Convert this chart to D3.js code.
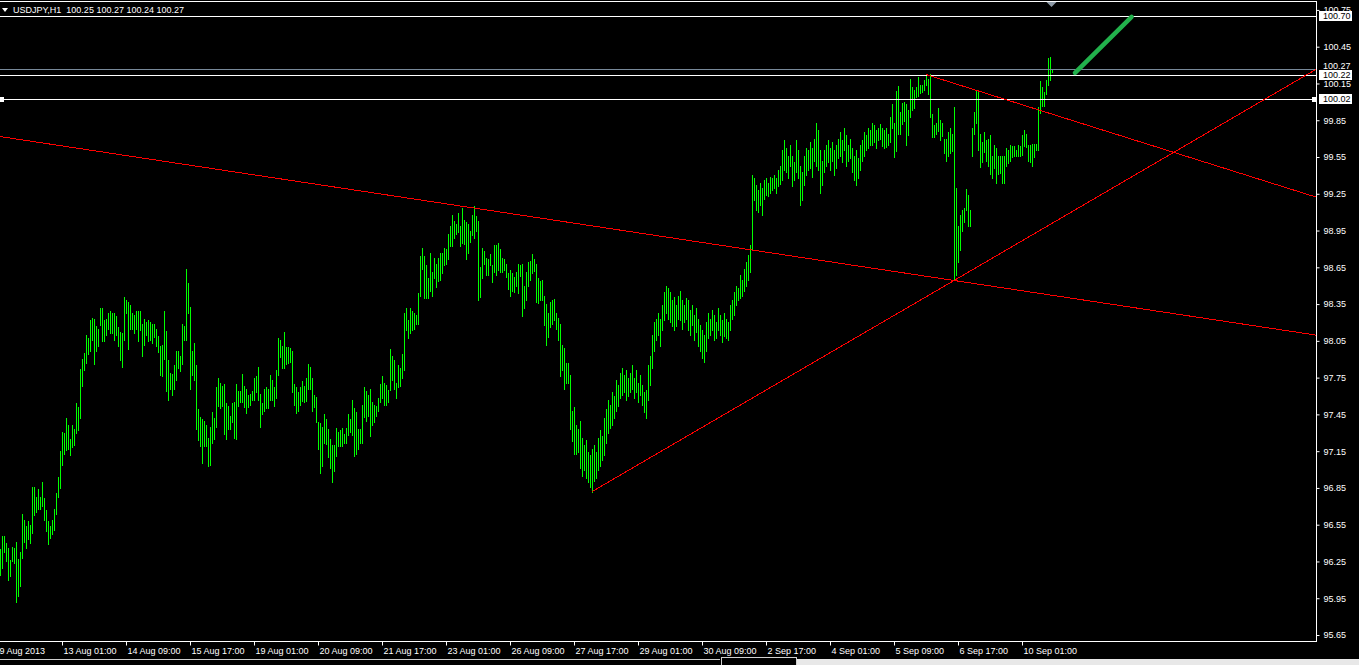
<!DOCTYPE html>
<html><head><meta charset="utf-8">
<script src="https://cdn.jsdelivr.net/npm/d3@7"></script>
<style>html,body{margin:0;padding:0;background:#000;overflow:hidden}text{white-space:pre}</style>
</head><body><svg id="c" width="1359" height="665"></svg>
<script>
// ---------------- DATA ----------------
const symbolTitle = "USDJPY,H1";
const lastOHLC = [100.25, 100.27, 100.24, 100.27];

const highs = [
96.35,96.46,96.46,96.40,96.36,96.26,96.37,96.36,96.41,96.27,
96.33,96.64,96.59,96.54,96.58,96.55,96.86,96.86,96.78,96.84,
96.78,96.90,96.77,96.67,96.58,96.54,96.59,96.68,96.81,96.94,
97.15,97.31,97.30,97.42,97.36,97.25,97.36,97.33,97.54,97.51,
97.82,97.90,97.95,98.10,98.07,98.22,98.24,98.23,98.17,98.15,
98.32,98.32,98.22,98.23,98.28,98.29,98.28,98.28,98.25,98.16,
98.12,98.11,98.41,98.38,98.37,98.34,98.28,98.26,98.29,98.29,
98.29,98.19,98.23,98.20,98.22,98.20,98.19,98.19,98.15,98.09,
98.01,98.02,98.29,98.13,97.89,97.79,97.78,97.85,97.97,97.97,
97.93,98.19,98.17,98.64,98.52,98.33,97.97,98.03,97.85,97.49,
97.43,97.41,97.40,97.36,97.26,97.35,97.47,97.42,97.67,97.75,
97.71,97.68,97.70,97.54,97.52,
97.44,97.54,97.55,97.70,97.64,97.64,97.78,97.68,97.66,97.61,
97.62,97.64,97.75,97.76,97.84,97.62,97.54,97.66,97.67,97.66,
97.77,97.73,97.67,97.81,98.07,98.06,98.01,98.12,98.00,98.00,
97.99,97.97,97.70,97.67,97.63,97.67,97.72,97.68,97.75,97.86,
97.84,97.75,97.61,97.59,97.39,97.38,97.35,97.45,97.41,97.33,
97.25,97.20,97.20,97.34,97.31,97.32,97.34,97.29,97.34,97.45,
97.41,97.57,97.50,97.47,97.33,97.33,97.53,97.67,97.64,97.61,
97.66,97.55,97.53,97.52,97.58,97.70,97.76,97.71,97.69,97.65,
97.98,97.93,97.89,97.71,97.85,97.83,97.94,98.28,98.32,98.22,
98.32,98.29,98.28,98.26,98.44,98.74,98.81,98.74,98.67,98.56,
98.77,98.61,98.73,98.68,98.73,98.77,98.77,98.81,98.80,98.92,
98.99,99.08,99.03,99.00,99.09,98.99,99.13,99.04,99.02,99.00,
98.95,99.08,99.15,99.07,99.03,98.65,98.81,98.78,98.73,98.72,
98.76,98.67,98.83,98.83,98.85,98.80,98.73,98.72,98.68,98.60,
98.63,98.60,98.57,98.61,98.68,98.67,98.68,98.50,98.61,98.69,
98.70,98.76,98.72,98.68,98.56,98.54,98.55,98.42,98.35,98.28,
98.37,98.38,98.39,98.28,98.24,98.19,98.02,97.99,97.87,97.87,
97.77,97.48,97.51,97.36,97.33,
97.40,97.26,97.20,97.24,97.14,97.12,97.17,97.20,97.14,97.26,
97.32,97.27,97.42,97.49,97.57,97.53,97.63,97.60,97.73,97.69,
97.79,97.83,97.77,97.81,97.75,97.79,97.85,97.75,97.81,97.71,
97.77,97.69,97.63,97.65,97.85,97.93,98.10,98.20,98.23,98.28,
98.23,98.34,98.45,98.50,98.48,98.45,98.38,98.41,98.34,98.42,
98.46,98.38,98.34,98.40,98.38,98.30,98.34,98.26,98.32,98.23,
98.18,98.14,98.10,98.20,98.28,98.23,98.30,98.26,98.20,98.32,
98.26,98.22,98.28,98.23,98.20,98.34,98.38,98.45,98.50,98.48,
98.59,98.55,98.64,98.69,98.75,98.83,99.40,99.38,99.32,99.28,
99.34,99.30,99.36,99.38,99.34,99.39,99.38,99.40,99.38,99.44,
99.48,99.61,99.69,99.62,99.56,99.65,99.56,99.51,99.69,99.61,
99.48,99.43,99.56,99.62,99.61,99.67,99.62,99.70,99.83,99.77,
99.61,99.52,99.61,99.65,99.69,99.62,99.67,99.61,99.65,99.70,
99.75,99.69,99.79,99.73,99.65,99.70,99.62,99.56,99.61,99.54,
99.65,99.69,99.75,99.73,99.79,99.77,99.83,99.81,99.77,99.79,
99.82,99.79,99.77,99.79,99.74,99.88,99.98,99.83,100.09,100.13,
99.92,99.99,100.00,99.98,99.93,100.19,100.12,100.10,100.12,100.20,
100.14,100.14,100.18,100.23,100.19,100.23,99.90,99.81,99.83,99.95,
99.85,99.83,99.70,99.70,99.75,99.79,99.74,99.96,99.30,98.99,
99.08,99.12,99.13,99.29,99.24,99.12,99.79,99.92,100.10,100.09,
99.74,99.67,99.75,99.69,99.70,99.73,99.56,99.65,99.62,99.56,
99.56,99.56,99.56,99.62,99.61,99.65,99.64,99.64,99.61,99.65,
99.64,99.73,99.77,99.74,99.65,99.65,99.66,99.66,99.66,99.96,
100.17,100.12,100.08,100.18,100.36,100.37,100.27
];

const lows = [
96.14,96.20,96.33,96.25,96.10,96.13,96.25,96.24,95.92,95.97,
96.05,96.28,96.41,96.36,96.43,96.40,96.48,96.63,96.65,96.68,
96.68,96.70,96.59,96.50,96.39,96.44,96.47,96.51,96.64,96.78,
96.85,97.04,97.13,97.16,97.17,97.12,97.18,97.20,97.30,97.32,
97.42,97.68,97.81,97.87,97.94,97.97,98.06,97.86,97.97,98.01,
98.18,98.05,98.05,98.10,98.15,98.11,98.11,98.06,98.10,98.01,
97.89,97.84,98.06,98.28,97.98,98.15,98.15,98.11,98.15,98.05,
98.14,97.93,98.02,98.10,98.05,98.06,98.03,98.08,98.01,97.96,
97.77,97.76,97.90,97.64,97.57,97.66,97.61,97.66,97.73,97.83,
97.80,97.86,98.06,98.06,98.28,97.66,97.77,97.73,97.33,97.24,
97.19,97.05,97.19,97.19,97.03,97.04,97.22,97.25,97.35,97.52,
97.50,97.52,97.29,97.25,97.33,
97.33,97.39,97.26,97.25,97.52,97.55,97.55,97.51,97.46,97.51,
97.53,97.57,97.57,97.63,97.57,97.35,97.45,97.48,97.50,97.50,
97.57,97.57,97.52,97.58,97.77,97.92,97.83,97.83,97.86,97.87,
97.88,97.63,97.53,97.46,97.48,97.53,97.56,97.55,97.56,97.66,
97.66,97.48,97.51,97.39,97.17,96.97,97.03,97.22,97.21,97.10,
97.01,96.90,96.99,97.11,97.19,97.19,97.19,97.22,97.22,97.28,
97.31,97.28,97.11,97.13,97.17,97.22,97.22,97.43,97.40,97.44,
97.27,97.36,97.39,97.44,97.48,97.55,97.58,97.53,97.53,97.55,
97.65,97.73,97.66,97.58,97.67,97.68,97.75,97.81,98.14,98.07,
98.11,98.14,98.15,98.19,98.19,98.42,98.64,98.40,98.40,98.40,
98.46,98.42,98.56,98.49,98.54,98.55,98.60,98.67,98.68,98.72,
98.82,98.82,98.89,98.92,98.94,98.82,98.85,98.84,98.72,98.77,
98.86,98.91,98.89,98.95,98.38,98.41,98.56,98.68,98.59,98.59,
98.67,98.53,98.61,98.59,98.63,98.61,98.61,98.63,98.57,98.47,
98.42,98.46,98.45,98.50,98.44,98.58,98.25,98.32,98.38,98.50,
98.55,98.60,98.62,98.37,98.36,98.38,98.38,98.18,98.02,98.08,
98.16,98.19,98.22,98.15,98.06,97.76,97.81,97.66,97.71,97.71,
97.33,97.23,97.13,97.13,97.14,
97.01,96.95,97.00,96.93,96.90,96.86,96.82,96.91,96.93,97.00,
97.03,97.08,97.12,97.22,97.30,97.34,97.36,97.42,97.48,97.52,
97.58,97.61,97.63,97.57,97.60,97.63,97.66,97.58,97.63,97.55,
97.61,97.53,97.47,97.42,97.57,97.69,97.83,97.97,98.06,98.10,
98.01,98.14,98.22,98.28,98.23,98.20,98.17,98.14,98.17,98.23,
98.22,98.15,98.20,98.23,98.14,98.10,98.18,98.06,98.12,98.01,
97.97,97.91,97.88,97.97,98.07,98.10,98.14,98.06,98.07,98.14,
98.10,98.04,98.09,98.07,98.06,98.14,98.23,98.26,98.34,98.38,
98.40,98.42,98.46,98.50,98.55,98.61,98.79,99.20,99.12,99.10,
99.16,99.08,99.21,99.24,99.23,99.26,99.28,99.30,99.26,99.31,
99.33,99.36,99.44,99.43,99.38,99.48,99.31,99.36,99.43,99.38,
99.16,99.20,99.32,99.40,99.44,99.46,99.39,99.52,99.48,99.44,
99.26,99.32,99.43,99.48,99.51,99.44,99.52,99.40,99.46,99.54,
99.56,99.51,99.61,99.48,99.52,99.54,99.43,99.36,99.32,99.38,
99.44,99.52,99.56,99.61,99.62,99.65,99.65,99.67,99.62,99.69,
99.70,99.64,99.62,99.63,99.65,99.67,99.79,99.55,99.60,99.74,
99.74,99.82,99.84,99.65,99.73,99.88,99.93,99.95,100.04,100.05,
100.07,100.08,100.10,100.14,100.06,99.88,99.71,99.71,99.74,99.76,
99.69,99.72,99.58,99.52,99.56,99.58,99.60,98.55,98.59,98.69,
98.79,98.95,99.02,99.12,98.99,98.99,99.56,99.74,99.83,99.61,
99.47,99.51,99.59,99.52,99.48,99.41,99.38,99.46,99.34,99.41,
99.42,99.34,99.34,99.48,99.50,99.52,99.55,99.56,99.56,99.56,
99.56,99.57,99.64,99.63,99.52,99.51,99.48,99.55,99.61,99.61,
99.91,99.97,99.97,100.06,100.14,100.18,100.24
];

const priceTicks = [95.65,95.95,96.25,96.55,96.85,97.15,97.45,97.75,98.05,98.35,98.65,98.95,99.25,99.55,99.85,100.15,100.45,100.75];

const timeLabels = ["9 Aug 2013","13 Aug 01:00","14 Aug 09:00","15 Aug 17:00","19 Aug 01:00","20 Aug 09:00","21 Aug 17:00","23 Aug 01:00","26 Aug 09:00","27 Aug 17:00","29 Aug 01:00","30 Aug 09:00","2 Sep 17:00","4 Sep 01:00","5 Sep 09:00","6 Sep 17:00","10 Sep 01:00"];
const timeLabelBars = [-1,31,63,95,127,159,191,223,255,287,319,351,383,415,447,479,511];

// trend lines (bar index / price)
const trendStartBar   = [0, 296, 463];
const trendStartPrice = [99.717, 96.82, 100.223];
const trendEndBar     = [658, 658.5, 658];
const trendEndPrice   = [98.097, 100.27, 99.223];

// horizontal lines
const hLinePrices = [100.70, 100.22, 100.02];
const bidPrice = 100.27;

// green arrow line
const arrowBars = [537.5, 565.8];
const arrowPrices = [100.236, 100.693];

// ---------------- DRAW ----------------
const W = 1359, H = 665;
const plotRight = 1316, plotTop = 1, plotBottom = 641;
const FONT = '9px "Liberation Sans", Arial, sans-serif';

const x = d3.scaleLinear().domain([0, 1]).range([0, 2]);
const y = d3.scaleLinear().domain([95.65, 100.45]).range([635, 46.7]);

const svg = d3.select('#c');
svg.append('rect').attr('width', W).attr('height', H).attr('fill', '#000');

svg.append('clipPath').attr('id', 'pc').append('rect')
  .attr('x', 0).attr('y', plotTop + 1).attr('width', plotRight).attr('height', plotBottom - plotTop - 1);
const g = svg.append('g').attr('clip-path', 'url(#pc)');

// bars (high-low)
const n = Math.min(highs.length, lows.length);
g.append('g').attr('shape-rendering', 'crispEdges').selectAll('rect')
  .data(d3.range(n)).join('rect')
  .attr('x', i => Math.round(x(i)))
  .attr('y', i => Math.round(y(highs[i])))
  .attr('width', 1)
  .attr('height', i => Math.max(1, Math.round(y(lows[i])) - Math.round(y(highs[i])) + 1))
  .attr('fill', '#00ff00');

// bid line
g.append('line').attr('x1', 0).attr('x2', plotRight)
  .attr('y1', Math.round(y(bidPrice)) + 0.5).attr('y2', Math.round(y(bidPrice)) + 0.5)
  .attr('stroke', '#778899').attr('stroke-width', 1);

// horizontal lines
g.selectAll('line.h').data(hLinePrices).join('line').attr('class', 'h')
  .attr('x1', 0).attr('x2', plotRight)
  .attr('y1', d => Math.round(y(d)) + 0.5).attr('y2', d => Math.round(y(d)) + 0.5)
  .attr('stroke', '#fff').attr('stroke-width', 1);

// selected line handles (100.02)
const selY = Math.round(y(hLinePrices[2]));
g.append('rect').attr('x', 0).attr('y', selY - 2).attr('width', 4).attr('height', 5).attr('fill', '#fff');
g.append('rect').attr('x', plotRight - 4).attr('y', selY - 2).attr('width', 4).attr('height', 5).attr('fill', '#fff');

// trend lines
const tl = d3.range(trendStartBar.length);
g.selectAll('line.t').data(tl).join('line').attr('class', 't')
  .attr('x1', i => x(trendStartBar[i])).attr('y1', i => y(trendStartPrice[i]))
  .attr('x2', i => x(trendEndBar[i])).attr('y2', i => y(trendEndPrice[i]))
  .attr('stroke', '#ff0000').attr('stroke-width', 1).attr('shape-rendering', 'crispEdges');

// green arrow
g.append('line')
  .attr('x1', x(arrowBars[0])).attr('y1', y(arrowPrices[0]))
  .attr('x2', x(arrowBars[1])).attr('y2', y(arrowPrices[1]))
  .attr('stroke', '#22b14c').attr('stroke-width', 4.5).attr('stroke-linecap', 'round');

// chart shift marker
svg.append('path').attr('d', 'M1046.5,2 L1056.5,2 L1051.5,7 Z').attr('fill', '#8d99a6');

// frame
const frame = svg.append('g').attr('stroke', '#fff').attr('stroke-width', 1).attr('shape-rendering', 'crispEdges');
frame.append('line').attr('x1', 0).attr('x2', plotRight + 0.5).attr('y1', plotTop + 0.5).attr('y2', plotTop + 0.5);
frame.append('line').attr('x1', 0).attr('x2', plotRight + 0.5).attr('y1', plotBottom + 0.5).attr('y2', plotBottom + 0.5);
frame.append('line').attr('x1', plotRight + 0.5).attr('x2', plotRight + 0.5).attr('y1', plotTop + 0.5).attr('y2', plotBottom + 0.5);

// price axis
const ya = d3.axisRight(y).tickValues(priceTicks).tickSize(3).tickPadding(4).tickFormat(d3.format('.2f'));
const ag = svg.append('g').attr('transform', `translate(${plotRight + 0.5},0)`).call(ya);
ag.select('.domain').remove();
ag.selectAll('line').attr('stroke', '#fff');
ag.selectAll('text').attr('fill', '#fff').style('font', FONT);

// time axis
const xa = d3.axisBottom(x).tickValues(timeLabelBars).tickSize(4).tickPadding(2).tickFormat((d, i) => timeLabels[i]);
const xg = svg.append('g').attr('transform', `translate(0,${plotBottom + 0.5})`).call(xa);
xg.select('.domain').remove();
xg.selectAll('line').attr('stroke', '#fff');
xg.selectAll('text').attr('fill', '#fff').attr('text-anchor', 'start').attr('dx', 1).style('font', FONT);

// bid label
svg.append('text').attr('x', 1323).attr('y', y(bidPrice) - 3).attr('dy', '0.35em')
  .attr('fill', '#fff').style('font', FONT).text(d3.format('.2f')(bidPrice));

// horizontal-line labels (white boxes)
const hl = svg.append('g').selectAll('g').data(hLinePrices).join('g');
hl.append('rect').attr('x', 1319).attr('y', d => Math.round(y(d)) - 5).attr('width', 33).attr('height', 10).attr('fill', '#fff');
hl.append('text').attr('x', 1323).attr('y', d => Math.round(y(d))).attr('dy', '0.35em')
  .attr('fill', '#000').style('font', FONT).text(d => d3.format('.2f')(d));

// title
svg.append('path').attr('d', 'M2,8 L8,8 L5,12 Z').attr('fill', '#fff');
svg.append('text').attr('x', 13).attr('y', 13).attr('fill', '#fff').style('font', FONT)
  .text(symbolTitle + '  ' + lastOHLC.map(d3.format('.2f')).join(' '));

// bottom tab strip
svg.append('rect').attr('x', 0).attr('y', 659).attr('width', 720).attr('height', 1).attr('fill', '#d0d0d0');
svg.append('rect').attr('x', 721.5).attr('y', 657.5).attr('width', 75).attr('height', 9).attr('fill', 'none').attr('stroke', '#d0d0d0');
svg.append('rect').attr('x', 797).attr('y', 659).attr('width', 562).attr('height', 6).attr('fill', '#e8e8e8');
</script>
</body></html>
